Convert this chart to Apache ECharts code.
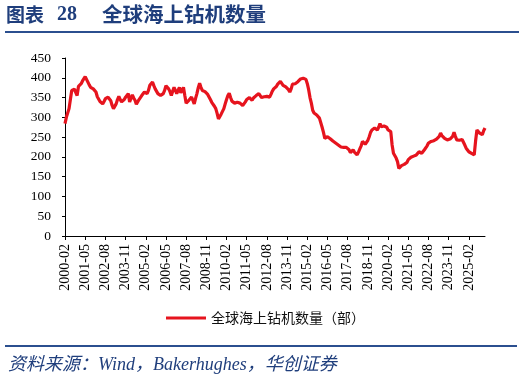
<!DOCTYPE html>
<html>
<head>
<meta charset="utf-8">
<script src="https://cdn.jsdelivr.net/npm/echarts@6/dist/echarts.min.js"></script>
<style>
html,body{margin:0;padding:0;background:#fff;}
#chart{width:524px;height:383px;}
</style>
</head>
<body>
<div id="chart"></div>
<script>
// Monthly categories from 2000-02 to 2026-02
var startYear = 2000, startMonth = 2, monthCount = 313;
var categories = [];
for (var i = 0; i < monthCount; i++) {
  var m = startMonth - 1 + i;
  var y = startYear + Math.floor(m / 12);
  var mm = (m % 12) + 1;
  categories.push(y + '-' + (mm < 10 ? '0' + mm : mm));
}

var seriesName = '全球海上钻机数量（部）';
var rigCount = [
  284, 300, 305, 322, 345, 368, 372, 371, 366, 355, 378, 382,
  385, 392, 396, 403, 398, 389, 382, 376, 378, 372, 368, 364,
  352, 349, 340, 336, 334, 340, 347, 349, 351, 353, 342, 330,
  322, 326, 334, 345, 353, 345, 339, 342, 345, 351, 355, 360,
  339, 348, 357, 349, 343, 333, 336, 345, 349, 355, 358, 364,
  362, 360, 368, 381, 386, 389, 380, 372, 367, 360, 357, 355,
  355, 360, 368, 380, 377, 372, 365, 355, 366, 376, 368, 360,
  368, 376, 362, 368, 376, 355, 336, 340, 343, 347, 351, 343,
  334, 348, 360, 375, 386, 376, 368, 366, 365, 364, 358, 353,
  345, 338, 334, 328, 322, 310, 296, 300, 308, 313, 322, 334,
  345, 355, 361, 350, 341, 339, 336, 334, 338, 341, 336, 332,
  330, 335, 339, 345, 348, 350, 346, 343, 349, 353, 355, 358,
  360, 356, 350, 347, 352, 355, 353, 352, 351, 358, 366, 372,
  375, 378, 384, 389, 391, 386, 381, 379, 377, 376, 370, 364,
  372, 384, 386, 385, 386, 390, 395, 397, 397, 399, 394, 396,
  385, 370, 350, 336, 318, 311, 308, 306, 303, 298, 294, 275,
  262, 247, 249, 251, 250, 246, 243, 240, 237, 235, 232, 230,
  228, 225, 222, 224, 226, 224, 225, 218, 211, 214, 218, 212,
  208, 205, 212, 220, 228, 239, 236, 232, 230, 242, 251, 262,
  268, 271, 273, 272, 268, 275, 284, 276, 273, 278, 281, 275,
  268, 266, 264, 230, 209, 205, 197, 188, 171, 174, 178, 180,
  181, 180, 186, 193, 197, 199, 201, 202, 201, 205, 209, 213,
  212, 209, 214, 218, 222, 228, 235, 237, 239, 240, 241, 243,
  245, 247, 252, 260, 254, 249, 247, 244, 243, 244, 245, 246,
  252, 262, 252, 243, 243, 242, 243, 244, 240, 230, 222, 218,
  213, 211, 209, 207, 205, 240, 268, 264, 260, 258, 256, 266, 273
];

var yMin = 0, yMax = 450, yInterval = 50;
var titleA = '图表';
var titleNo = '28';
var titleText = '全球海上钻机数量';
var sourceText = '资料来源：Wind，Bakerhughes，华创证券';

var serif = '"Times New Roman","Liberation Serif","DejaVu Serif",serif';
var cjk = '"Noto Sans CJK SC","Noto Sans",sans-serif';
var navy = '#1f3e7c';
var red = '#e6141e';

var chart = echarts.init(document.getElementById('chart'), null, {renderer: 'canvas'});
chart.setOption({
  animation: false,
  backgroundColor: '#fff',
  grid: {left: 65, right: 39, top: 58, bottom: 147, containLabel: false},
  legend: {
    data: [seriesName],
    left: 161, top: 306,
    icon: 'rect', itemWidth: 40, itemHeight: 3, itemGap: 10,
    textStyle: {fontFamily: cjk, fontSize: 14, color: '#111'}
  },
  xAxis: {
    type: 'category',
    data: categories,
    boundaryGap: false,
    axisLine: {lineStyle: {color: '#000', width: 1}},
    axisTick: {interval: 14, length: 4, lineStyle: {color: '#000'}},
    axisLabel: {interval: 14, rotate: 90, margin: 8, fontFamily: serif, fontSize: 14, color: '#000'},
    splitLine: {show: false}
  },
  yAxis: {
    type: 'value',
    min: yMin, max: yMax, interval: yInterval,
    axisLine: {show: true, lineStyle: {color: '#000', width: 1}},
    axisTick: {show: true, length: 3, lineStyle: {color: '#000'}},
    axisLabel: {margin: 14, fontFamily: serif, fontSize: 13.5, color: '#000'},
    splitLine: {show: false}
  },
  series: [{
    name: seriesName,
    type: 'line',
    data: rigCount,
    showSymbol: false,
    symbol: 'none',
    lineStyle: {color: red, width: 3.2},
    itemStyle: {color: red}
  }],
  graphic: [
    {type: 'text', left: 6, top: 5, style: {text: titleA, font: 'bold 19px ' + cjk, fill: navy}},
    {type: 'text', left: 57, top: 5, style: {text: titleNo, font: 'bold 20px ' + serif, fill: navy}},
    {type: 'text', left: 102, top: 4, style: {text: titleText, font: 'bold 20.5px ' + cjk, fill: navy}},
    {type: 'rect', shape: {x: 5, y: 31, width: 514, height: 2}, style: {fill: '#2b4f8f'}},
    {type: 'rect', shape: {x: 5, y: 345, width: 512, height: 2}, style: {fill: '#2b4f8f'}},
    {type: 'text', left: 8, top: 356, style: {text: sourceText, font: 'italic 18px ' + serif + ',' + cjk, fill: navy}}
  ]
});
</script>
</body>
</html>
